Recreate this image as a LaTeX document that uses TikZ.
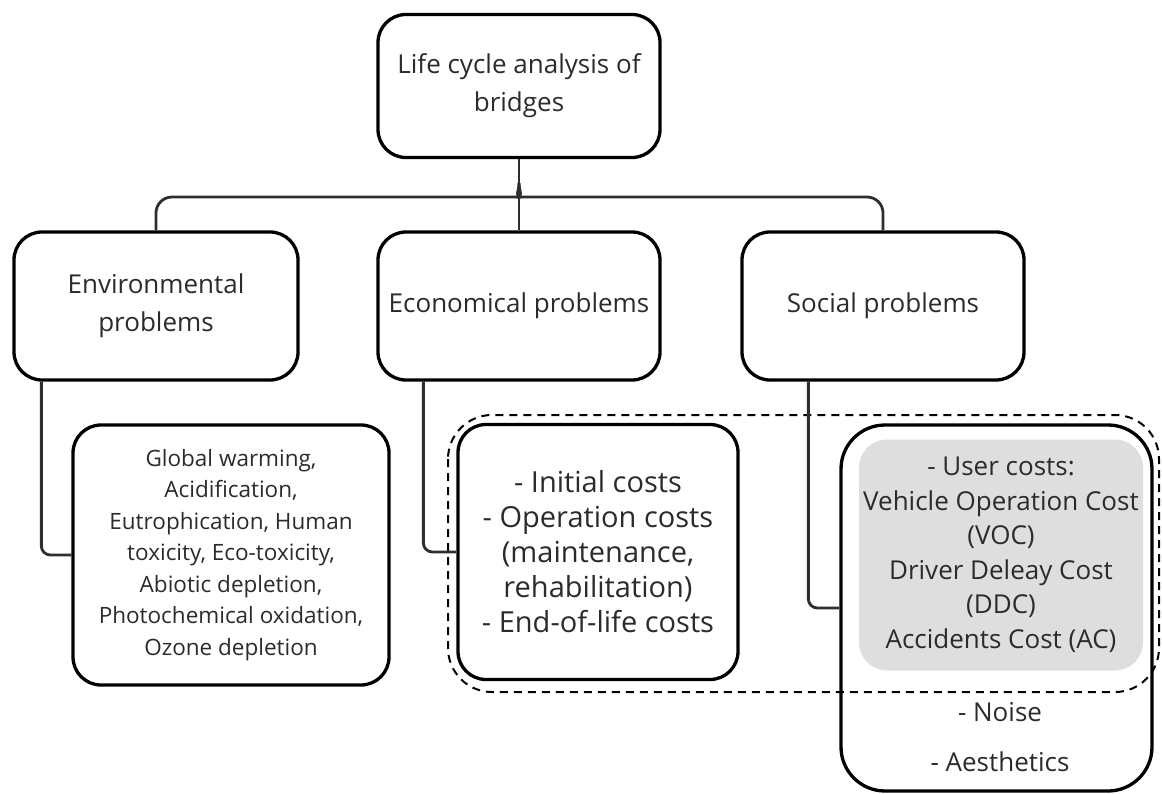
\documentclass[tikz,border=0pt]{standalone}
\usepackage{xcolor}
\usepackage{fontspec}
\setmainfont{Open Sans}
\usepackage{tikz}
\usetikzlibrary{calc}

\definecolor{txtgrey}{HTML}{2B2B2B}
\definecolor{linegrey}{HTML}{2E2E2E}
\definecolor{usergrey}{HTML}{DDDEDD}

\begin{document}
\begin{tikzpicture}[x=1pt, y=-1pt,
    box/.style={draw=black, line width=3.3pt, rounded corners=28pt, align=center,
        text=txtgrey, inner sep=0pt, font=\fontsize{26}{38}\selectfont},
    conn/.style={draw=linegrey, line width=2.8pt},
    ]
             \useasboundingbox (0,0) rectangle (1162,794);

             \node[box, minimum width=282, minimum height=143] (lca) at (519, 86) {Life cycle analysis of\\bridges};

             \node[box, minimum width=284, minimum height=148] (env) at (156, 306) {Environmental\\problems};
             \node[box, minimum width=282, minimum height=148] (eco) at (519, 306) {Economical problems};
             \node[box, minimum width=282, minimum height=148] (soc) at (883, 306) {Social problems};

             \draw[dashed, line width=2pt, dash pattern=on 8pt off 6pt, rounded corners=44pt] (448,415) rectangle (1159,692);

             \node[box, minimum width=316, minimum height=260, font=\fontsize{22.5}{31.5}\selectfont] (envd) at (231, 555)
                 {Global warming,\\Acidification,\\Eutrophication, Human\\toxicity, Eco-toxicity,\\Abiotic depletion,\\Photochemical oxidation,\\Ozone depletion};
             \node[box, minimum width=280, minimum height=255, font=\fontsize{29}{35}\selectfont] (ecod) at (598, 552)
                 {- Initial costs\\- Operation costs\\(maintenance,\\rehabilitation)\\- End-of-life costs};
             \node[box, minimum width=311, minimum height=366, rounded corners=44pt] (socd) at (996.5, 608) {};
             \node[box, draw=none, fill=usergrey, minimum width=284, minimum height=231, font=\fontsize{26}{34.5}\selectfont] (usr) at (1001, 555)
                 {- User costs:\\Vehicle Operation Cost\\(VOC)\\Driver Deleay Cost\\(DDC)\\Accidents Cost (AC)};
             \node[box, draw=none, fill=none, font=\fontsize{26}{50}\selectfont] (oth) at (1000, 737) {- Noise\\- Aesthetics};

             \coordinate (jn) at (519, 197);
             \draw[conn] (lca.south) -- (eco.north);
             \draw[conn, rounded corners=16pt] (env.north) |- ($(jn)+(-13,0)$) .. controls ($(jn)+(-5,0)$) and ($(jn)+(0,-5)$) .. ($(jn)+(0,-14)$);
             \draw[conn, rounded corners=16pt] (soc.north) |- ($(jn)+(13,0)$) .. controls ($(jn)+(5,0)$) and ($(jn)+(0,-5)$) .. ($(jn)+(0,-14)$);

             \draw[conn, rounded corners=9pt] ([xshift=29pt]env.south west) |- (envd.west);
             \draw[conn, rounded corners=9pt] ([xshift=47pt]eco.south west) |- (ecod.west);
             \draw[conn, rounded corners=9pt] ([xshift=68pt]soc.south west) |- (socd.west);
             \end{tikzpicture}
\end{document}
